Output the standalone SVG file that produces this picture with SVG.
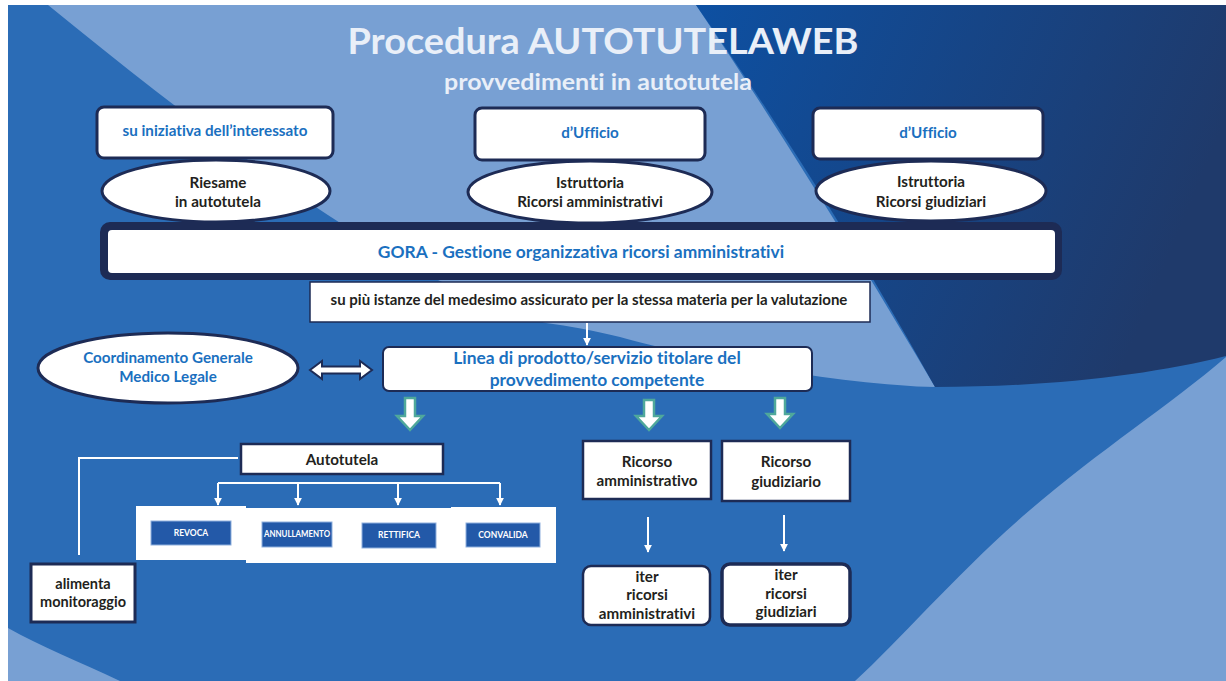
<svg xmlns="http://www.w3.org/2000/svg" width="1226" height="681" viewBox="0 0 1226 681">
<defs>
<linearGradient id="dark" x1="0" y1="0" x2="1" y2="0.3">
<stop offset="0" stop-color="#0d50a2"/>
<stop offset="1" stop-color="#1f3a6b"/>
</linearGradient>
<marker id="ah" viewBox="0 0 10 10" refX="9" refY="5" markerWidth="8" markerHeight="8" orient="auto" markerUnits="userSpaceOnUse">
<path d="M0,0 L10,5 L0,10 Z" fill="#ffffff"/>
</marker>
<style>
text{font-family:Lato,"Liberation Sans",sans-serif;font-weight:bold;text-anchor:middle;font-variant-ligatures:none}
.blue{fill:#1a70bf}
.dark{fill:#231f20}
.box{fill:#ffffff;stroke:#1d2b55}
.tag{fill:#2359a8;stroke:#8fb0dd;stroke-width:1}
.tagt{fill:#ffffff;font-size:8.5px}
.green{fill:#ffffff;stroke:#4fa89b;stroke-width:2.5}
.wl{stroke:#ffffff;stroke-width:2;fill:none}
</style>
</defs>
<g id="background">
<rect x="0" y="0" width="1226" height="681" fill="#ffffff"/>
<rect x="8" y="5" width="1218" height="676" fill="#2b6cb6"/>
<path d="M48,5 L696,5 C780,130 860,260 935,387 C850,385 700,360 620,337 C590,330 570,326 546,323 C420,290 250,170 48,5 Z" fill="#78a0d3"/>
<path d="M696,5 L1226,5 L1226,356 C1150,375 1050,387 935,387 C870,270 790,140 696,5 Z" fill="url(#dark)"/>
<path d="M1226,357 L1226,681 L855,681 C900,640 960,570 1030,510 C1100,450 1170,405 1226,357 Z" fill="#78a0d3"/>
<path d="M8,628 L8,681 L120,681 C80,662 40,646 8,628 Z" fill="#78a0d3"/>
</g>
<g id="title">
<text x="603" y="54" font-size="36" fill="#e9eff8" textLength="511" lengthAdjust="spacingAndGlyphs">Procedura AUTOTUTELAWEB</text>
<text x="598" y="90" font-size="23" fill="#e9eff8" textLength="308" lengthAdjust="spacingAndGlyphs">provvedimenti in autotutela</text>
</g>
<g id="connectors">
<path class="wl" d="M238,458 L79,458 L79,555" stroke="#dfe6f2"/>
<path class="wl" d="M218,483 L500,483"/>
<path class="wl" d="M218,483 L218,505" marker-end="url(#ah)"/>
<path class="wl" d="M298,483 L298,505" marker-end="url(#ah)"/>
<path class="wl" d="M398,483 L398,505" marker-end="url(#ah)"/>
<path class="wl" d="M500,483 L500,505" marker-end="url(#ah)"/>
<path class="wl" d="M587,323 L587,345" marker-end="url(#ah)"/>
<path class="wl" d="M648,517 L648,552" marker-end="url(#ah)"/>
<path class="wl" d="M784,515 L784,551" marker-end="url(#ah)"/>
<path d="M310,370 L322,361 L322,366.5 L360,366.5 L360,361 L372,370 L360,379 L360,373.5 L322,373.5 L322,379 Z" fill="#ffffff" stroke="#1d2b55" stroke-width="2"/>
<path class="green" d="M405,398 L415,398 L415,416 L423,416 L410,430 L397,416 L405,416 Z"/>
<path class="green" d="M644,400 L654,400 L654,416 L662,416 L649,430 L636,416 L644,416 Z"/>
<path class="green" d="M775,398 L785,398 L785,414 L793,414 L780,428 L767,414 L775,414 Z"/>
</g>
<g id="n-iniziativa">
<rect class="box" x="97" y="107" width="236" height="51" rx="7" stroke-width="3"/>
<text class="blue" x="215" y="136" font-size="15.2">su iniziativa dell’interessato</text>
</g>
<g id="n-ufficio1">
<rect class="box" x="475" y="108" width="230" height="52" rx="7" stroke-width="3"/>
<text class="blue" x="590" y="138" font-size="15.2">d’Ufficio</text>
</g>
<g id="n-ufficio2">
<rect class="box" x="813" y="108" width="230" height="51" rx="7" stroke-width="3"/>
<text class="blue" x="928" y="138" font-size="15.2">d’Ufficio</text>
</g>
<g id="n-riesame">
<ellipse class="box" cx="216" cy="191" rx="114" ry="31" stroke-width="3"/>
<text class="dark" x="218" y="188" font-size="15.2">Riesame</text>
<text class="dark" x="218" y="207" font-size="15.2">in autotutela</text>
</g>
<g id="n-istr-amm">
<ellipse class="box" cx="590" cy="192" rx="122" ry="31" stroke-width="3"/>
<text class="dark" x="590" y="188" font-size="15.2">Istruttoria</text>
<text class="dark" x="590" y="207" font-size="15.2">Ricorsi amministrativi</text>
</g>
<g id="n-istr-giu">
<ellipse class="box" cx="931" cy="191" rx="115" ry="30" stroke-width="3"/>
<text class="dark" x="931" y="187" font-size="15.2">Istruttoria</text>
<text class="dark" x="931" y="207" font-size="15.2">Ricorsi giudiziari</text>
</g>
<g id="n-gora">
<rect x="100" y="222" width="962" height="58" rx="10" fill="#1d2b55"/>
<rect x="108" y="230" width="947" height="43" rx="4" fill="#ffffff"/>
<text class="blue" x="581" y="258" font-size="17.4">GORA - Gestione organizzativa ricorsi amministrativi</text>
</g>
<g id="n-istanze">
<rect class="box" x="310" y="282" width="560" height="40" stroke-width="1.5"/>
<text class="dark" x="589" y="305" font-size="15">su più istanze del medesimo assicurato per la stessa materia per la valutazione</text>
</g>
<g id="n-coordinamento">
<ellipse class="box" cx="168" cy="368" rx="130" ry="35" stroke-width="3"/>
<text class="blue" x="168" y="363" font-size="15.2">Coordinamento Generale</text>
<text class="blue" x="168" y="382" font-size="15.2">Medico Legale</text>
</g>
<g id="n-linea">
<rect class="box" x="383" y="347" width="429" height="44" rx="6" stroke-width="2"/>
<text class="blue" x="597" y="364" font-size="17.4">Linea di prodotto/servizio titolare del</text>
<text class="blue" x="597" y="386" font-size="17.4">provvedimento competente</text>
</g>
<g id="n-autotutela">
<rect class="box" x="241" y="444" width="202" height="30" stroke-width="2.5"/>
<text class="dark" x="342" y="465" font-size="15.2">Autotutela</text>
</g>
<g id="n-revoca">
<rect x="136" y="506" width="110" height="54" fill="#ffffff"/>
<rect class="tag" x="151" y="521" width="80" height="24"/>
<text class="tagt" x="191" y="536">REVOCA</text>
</g>
<g id="n-annullamento">
<rect x="246" y="508" width="102" height="55" fill="#ffffff"/>
<rect class="tag" x="262" y="522" width="70" height="25"/>
<text class="tagt" x="297" y="537" textLength="66" lengthAdjust="spacingAndGlyphs">ANNULLAMENTO</text>
</g>
<g id="n-rettifica">
<rect x="347" y="508" width="105" height="55" fill="#ffffff"/>
<rect class="tag" x="362" y="523" width="74" height="25"/>
<text class="tagt" x="399" y="538">RETTIFICA</text>
</g>
<g id="n-convalida">
<rect x="451" y="507" width="105" height="56" fill="#ffffff"/>
<rect class="tag" x="466" y="523" width="74" height="24"/>
<text class="tagt" x="503" y="538">CONVALIDA</text>
</g>
<g id="n-alimenta">
<rect class="box" x="31" y="564" width="104" height="58" stroke-width="3"/>
<text class="dark" x="83" y="589" font-size="14.5">alimenta</text>
<text class="dark" x="83" y="607" font-size="14.5">monitoraggio</text>
</g>
<g id="n-ric-amm">
<rect class="box" x="583" y="441" width="128" height="58" stroke-width="2.5"/>
<text class="dark" x="647" y="467" font-size="15.2">Ricorso</text>
<text class="dark" x="647" y="486" font-size="15.2">amministrativo</text>
</g>
<g id="n-ric-giu">
<rect class="box" x="722" y="441" width="128" height="60" stroke-width="2.5"/>
<text class="dark" x="786" y="467" font-size="15.2">Ricorso</text>
<text class="dark" x="786" y="487" font-size="15.2">giudiziario</text>
</g>
<g id="n-iter-amm">
<rect class="box" x="583" y="566" width="127" height="59" rx="8" stroke-width="2.5"/>
<text class="dark" x="647" y="582" font-size="15.2">iter</text>
<text class="dark" x="647" y="600" font-size="15.2">ricorsi</text>
<text class="dark" x="647" y="619" font-size="15.2">amministrativi</text>
</g>
<g id="n-iter-giu">
<rect class="box" x="722" y="564" width="128" height="61" rx="8" stroke-width="3.5"/>
<text class="dark" x="786" y="580" font-size="15.2">iter</text>
<text class="dark" x="786" y="599" font-size="15.2">ricorsi</text>
<text class="dark" x="786" y="617" font-size="15.2">giudiziari</text>
</g>
</svg>
